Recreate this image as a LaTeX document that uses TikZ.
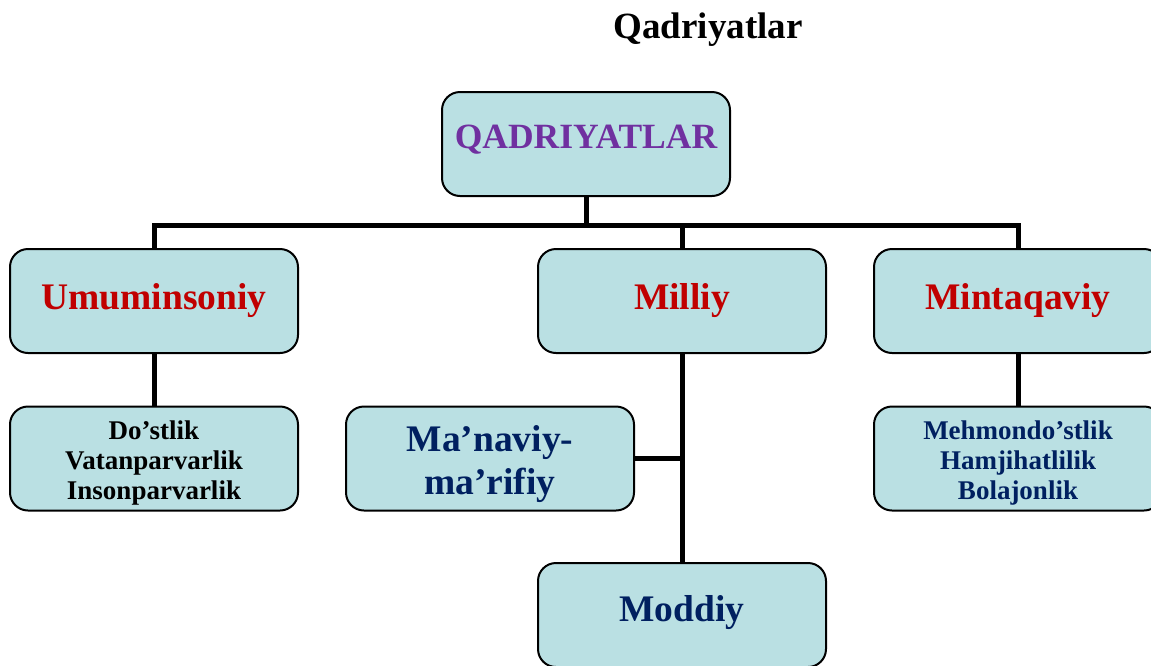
\documentclass[tikz,border=0pt]{standalone}
\usepackage{fontspec}
\setmainfont{Liberation Serif}
\definecolor{boxfill}{HTML}{BAE0E3}
\definecolor{lblred}{HTML}{C00000}
\definecolor{lblnavy}{HTML}{002060}
\definecolor{lblpurple}{HTML}{7030A0}
\begin{document}
\begin{tikzpicture}[x=1pt,y=-1pt,
  box/.style={draw=black,line width=2pt,fill=boxfill,rounded corners=18pt,
    minimum width=288pt,minimum height=104pt,inner sep=0pt},
  bigtxt/.style={align=center,inner sep=0pt,font=\bfseries\fontsize{37.5}{43}\selectfont},
  smalltxt/.style={align=center,inner sep=0pt,font=\bfseries\fontsize{27}{30}\selectfont},
  conn/.style={draw=black,line width=5pt,line join=miter}]
\useasboundingbox (0,0) rectangle (1151,665);
\clip (0,0) rectangle (1151,665);
\node[font=\bfseries\fontsize{37}{43}\selectfont] (title) at (708,30) {Qadriyatlar};
\node[box,label={[bigtxt,text=lblpurple,font=\bfseries\fontsize{35.5}{40}\selectfont,yshift=4pt]center:QADRIYATLAR}] (top) at (586,144) {};
\node[box,label={[bigtxt,text=lblred]center:Umuminsoniy}] (umum) at (154,301) {};
\node[box,label={[bigtxt,text=lblred]center:Milliy}] (milliy) at (682,301) {};
\node[box,label={[bigtxt,text=lblred]center:Mintaqaviy}] (mint) at (1018,301) {};
\node[box,label={[smalltxt,text=black,yshift=-4pt]center:Do’stlik\\Vatanparvarlik\\Insonparvarlik}] (dost) at (154,458.5) {};
\node[box,label={[bigtxt,text=lblnavy,yshift=-6pt]center:Ma’naviy-\\ma’rifiy}] (manav) at (490,458.5) {};
\node[box,label={[smalltxt,text=lblnavy,yshift=-4pt]center:Mehmondo’stlik\\Hamjihatlilik\\Bolajonlik}] (mehm) at (1018,458.5) {};
\node[box,label={[bigtxt,text=lblnavy,yshift=2pt]center:Moddiy}] (moddiy) at (682,615) {};
\coordinate (bar) at (0,225);
\draw[conn] (top.south) -- (top.south |- bar);
\draw[conn] (umum.north) |- (mint.north |- bar) -- (mint.north);
\draw[conn] (milliy.north) -- (milliy.north |- bar);
\draw[conn] (umum.south) -- (dost.north);
\draw[conn] (mint.south) -- (mehm.north);
\draw[conn] (milliy.south) -- (moddiy.north);
\draw[conn] (manav.east) -- (manav.east -| milliy.south);
\end{tikzpicture}
\end{document}
